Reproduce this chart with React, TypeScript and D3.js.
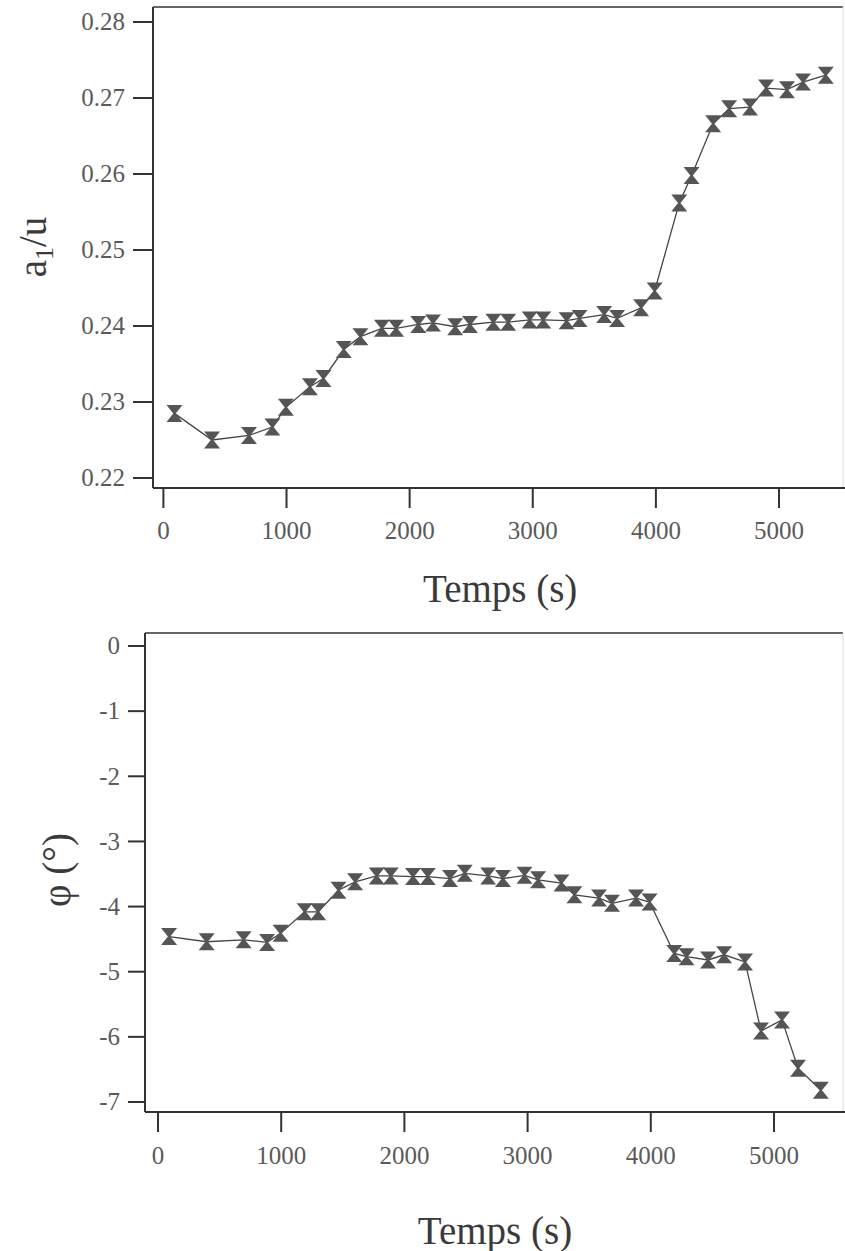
import React from "react";
import * as d3 from "d3";

// Shared time axis (s)
const times = [90, 395, 695, 885, 995, 1190, 1300, 1465, 1600, 1775, 1890, 2070, 2190, 2370, 2490, 2680, 2800, 2975, 3085, 3275, 3380, 3580, 3685, 3880, 3990, 4190, 4290, 4465, 4595, 4765, 4895, 5065, 5195, 5380];

// a1/u series
const a1Values = [0.2285, 0.2250, 0.2256, 0.2267, 0.2293, 0.2320, 0.2331, 0.2369, 0.2386, 0.2397, 0.2397, 0.2402, 0.2404, 0.2399, 0.2402, 0.2405, 0.2405, 0.2408, 0.2408, 0.2407, 0.2410, 0.2415, 0.2410, 0.2424, 0.2446, 0.2562, 0.2598, 0.2666, 0.2686, 0.2688, 0.2713, 0.2711, 0.2721, 0.2730];

// phi (deg) series
const phiValues = [-4.46, -4.54, -4.51, -4.55, -4.41, -4.08, -4.08, -3.75, -3.62, -3.53, -3.53, -3.54, -3.54, -3.57, -3.49, -3.53, -3.57, -3.52, -3.59, -3.64, -3.82, -3.87, -3.95, -3.87, -3.93, -4.72, -4.77, -4.82, -4.74, -4.85, -5.91, -5.74, -6.48, -6.82];

const xTicks = [0, 1000, 2000, 3000, 4000, 5000];
const a1Ticks = [0.22, 0.23, 0.24, 0.25, 0.26, 0.27, 0.28];
const phiTicks = [0, -1, -2, -3, -4, -5, -6, -7];

const FONT = "'Liberation Serif', 'DejaVu Serif', serif";
const TICK_COLOR = "#5a5a5a";
const AXIS_COLOR = "#333";
const MARK_COLOR = "#555";

const hourglass = "M -8,-8.5 L 8,-8.5 L 1.2,0 L 8,8.5 L -8,8.5 L -1.2,0 Z";

type PanelProps = {
  values: number[];
  yTicks: number[];
  yFmt: (v: number) => string;
  x: d3.ScaleLinear<number, number>;
  y: d3.ScaleLinear<number, number>;
  frame: { left: number; top: number; bottom: number; right: number };
  tickLen: number;
  xLabelY: number;
  titleY: number;
};

function Panel({ values, yTicks, yFmt, x, y, frame, tickLen, xLabelY, titleY }: PanelProps) {
  const pts = times.map((t, i) => [x(t), y(values[i])] as [number, number]);
  const line = d3.line()(pts) || "";
  return (
    <g>
      {/* frame */}
      <line x1={frame.left} x2={frame.right} y1={frame.top} y2={frame.top} stroke={AXIS_COLOR} strokeWidth={1.6} />
      <line x1={frame.right} x2={frame.right} y1={frame.top} y2={frame.bottom} stroke="#ddd" strokeWidth={1} />
      <line x1={frame.left} x2={frame.left} y1={frame.top} y2={frame.bottom} stroke={AXIS_COLOR} strokeWidth={2} />
      <line x1={frame.left} x2={frame.right + 2} y1={frame.bottom} y2={frame.bottom} stroke={AXIS_COLOR} strokeWidth={2} />
      {/* y ticks */}
      {yTicks.map((v) => (
        <g key={"y" + v}>
          <line x1={frame.left - tickLen} x2={frame.left} y1={y(v)} y2={y(v)} stroke={AXIS_COLOR} strokeWidth={2} />
          <text x={frame.left - tickLen - 8} y={y(v)} dy="0.33em" textAnchor="end" fontFamily={FONT} fontSize={25} fill={TICK_COLOR}>
            {yFmt(v)}
          </text>
        </g>
      ))}
      {/* x ticks */}
      {xTicks.map((v) => (
        <g key={"x" + v}>
          <line x1={x(v)} x2={x(v)} y1={frame.bottom} y2={frame.bottom + 20} stroke={AXIS_COLOR} strokeWidth={2} />
          <text x={x(v)} y={xLabelY} textAnchor="middle" fontFamily={FONT} fontSize={25} fill={TICK_COLOR}>
            {v}
          </text>
        </g>
      ))}
      <text x={(x(0) + x(5000)) / 2 + 29} y={titleY} textAnchor="middle" fontFamily={FONT} fontSize={39} fill="#3a3a3a">
        Temps (s)
      </text>
      {/* data */}
      <path d={line} fill="none" stroke="#444" strokeWidth={1.3} />
      {pts.map(([px, py], i) => (
        <path key={i} d={hourglass} transform={`translate(${px},${py})`} fill={MARK_COLOR} />
      ))}
    </g>
  );
}

export default function App() {
  const xTop = d3.scaleLinear().domain([0, 5000]).range([163.4, 779]);
  const yTop = d3.scaleLinear().domain([0.22, 0.28]).range([478, 22]);
  const xBot = d3.scaleLinear().domain([0, 5000]).range([158, 774]);
  const yBot = d3.scaleLinear().domain([-7, 0]).range([1102, 646]);

  return (
    <svg width={845} height={1251} style={{ position: "absolute", left: 0, top: 0, background: "#fff" }}>
      <rect x={0} y={0} width={845} height={1251} fill="#fff" />
      <Panel
        values={a1Values}
        yTicks={a1Ticks}
        yFmt={(v) => v.toFixed(2)}
        x={xTop}
        y={yTop}
        frame={{ left: 153, top: 7, bottom: 488, right: 843 }}
        tickLen={20}
        xLabelY={539}
        titleY={602}
      />
      <Panel
        values={phiValues}
        yTicks={phiTicks}
        yFmt={(v) => String(v)}
        x={xBot}
        y={yBot}
        frame={{ left: 145, top: 633, bottom: 1112, right: 843 }}
        tickLen={17}
        xLabelY={1164}
        titleY={1244}
      />
      {/* y axis titles */}
      <text transform="translate(46,247) rotate(-90)" textAnchor="middle" fontFamily={FONT} fontSize={39} fill="#3a3a3a">
        a<tspan fontSize={26} dy={7}>1</tspan><tspan dy={-7}>/u</tspan>
      </text>
      <text transform="translate(70,870) rotate(-90)" textAnchor="middle" fontFamily={FONT} fontSize={39} fill="#3a3a3a">
        φ (°)
      </text>
    </svg>
  );
}
